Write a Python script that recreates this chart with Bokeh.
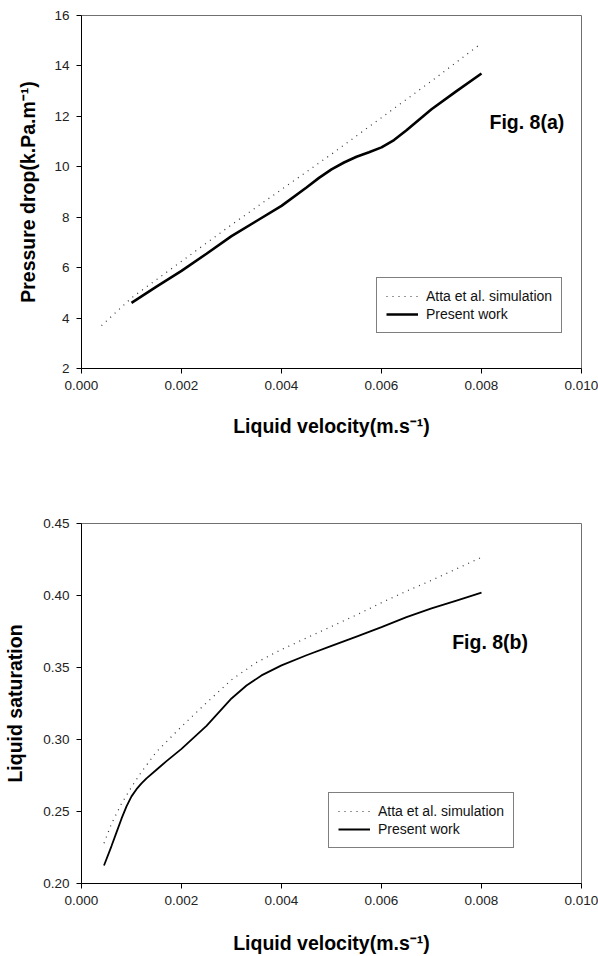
from bokeh.plotting import figure
from bokeh.models import Range1d, FixedTicker, PrintfTickFormatter, Label
from bokeh.layouts import column
from bokeh.embed import file_html
from bokeh.resources import INLINE

FONT = "Liberation Sans"

# ---------------- Fig. 8(a) data ----------------
a_atta_v = [0.0004, 0.001, 0.002, 0.003, 0.004, 0.005, 0.006, 0.007, 0.008]
a_atta_dp = [3.7, 4.8, 6.25, 7.7, 9.1, 10.5, 11.95, 13.4, 14.9]
a_work_v = [0.001, 0.0015, 0.002, 0.0025, 0.003, 0.0035, 0.004, 0.0045, 0.00475,
            0.005, 0.00525, 0.0055, 0.00575, 0.006, 0.00625, 0.0065, 0.00675,
            0.007, 0.0075, 0.008]
a_work_dp = [4.6, 5.25, 5.87, 6.55, 7.25, 7.85, 8.45, 9.18, 9.56,
             9.9, 10.17, 10.4, 10.58, 10.77, 11.06, 11.45, 11.87,
             12.28, 13.0, 13.7]
a_xticks = [0.0, 0.002, 0.004, 0.006, 0.008, 0.010]
a_yticks = [2, 4, 6, 8, 10, 12, 14, 16]

# ---------------- Fig. 8(b) data ----------------
b_atta_v = [0.00045, 0.0006, 0.0008, 0.001, 0.0012, 0.0015, 0.002, 0.0025, 0.003,
            0.0035, 0.004, 0.0045, 0.005, 0.0055, 0.006, 0.0065, 0.007, 0.0075, 0.008]
b_atta_s = [0.228, 0.2415, 0.2555, 0.267, 0.2775, 0.2915, 0.309, 0.3255, 0.3415,
            0.3535, 0.3625, 0.3705, 0.3785, 0.3865, 0.395, 0.403, 0.4105, 0.4185, 0.4265]
b_work_v = [0.00045, 0.0006, 0.0007, 0.0008, 0.0009, 0.001, 0.0011, 0.0012, 0.0013,
            0.0015, 0.0017, 0.002, 0.0025, 0.003, 0.0033, 0.0036, 0.004, 0.0045,
            0.005, 0.0055, 0.006, 0.0065, 0.007, 0.0075, 0.008]
b_work_s = [0.2125, 0.226, 0.2355, 0.245, 0.2535, 0.2605, 0.2655, 0.2695, 0.273,
            0.279, 0.285, 0.2935, 0.3095, 0.3285, 0.3375, 0.3445, 0.3515, 0.3585,
            0.365, 0.3715, 0.378, 0.385, 0.391, 0.3965, 0.402]
b_xticks = [0.0, 0.002, 0.004, 0.006, 0.008, 0.010]
b_yticks = [0.20, 0.25, 0.30, 0.35, 0.40, 0.45]

series_names = ["Atta et al. simulation", "Present work"]
x_title = "Liquid velocity(m.s\u207b\u00b9)"
y_title_a = "Pressure drop(k.Pa.m\u207b\u00b9)"
y_title_b = "Liquid saturation"


def style(p, xticks, yticks, yfmt, xstand, ystand):
    p.xaxis.ticker = FixedTicker(ticks=xticks)
    p.yaxis.ticker = FixedTicker(ticks=yticks)
    p.xaxis.formatter = PrintfTickFormatter(format="%.3f")
    p.yaxis.formatter = PrintfTickFormatter(format=yfmt)
    for ax in (p.xaxis[0], p.yaxis[0]):
        ax.axis_line_color = "black"
        ax.axis_line_width = 1
        ax.major_tick_line_color = "black"
        ax.major_tick_out = 5
        ax.major_tick_in = 0
        ax.minor_tick_out = 0
        ax.minor_tick_in = 0
        ax.major_label_standoff = 7
        ax.major_label_text_font = FONT
        ax.major_label_text_font_size = "13.5px"
        ax.major_label_text_color = "#222222"
        ax.axis_label_text_font = FONT
        ax.axis_label_text_font_size = "19.5px"
        ax.axis_label_text_font_style = "bold"
        ax.axis_label_text_color = "black"
    p.xaxis[0].axis_label_standoff = xstand
    p.yaxis[0].axis_label_standoff = ystand
    p.xgrid.visible = False
    p.ygrid.visible = False
    p.outline_line_color = "#707070"
    p.outline_line_width = 1
    p.background_fill_color = "white"
    p.border_fill_color = "white"


def add_tag(p, text, x, y):
    p.add_layout(Label(x=x, y=y, x_units="screen", y_units="screen", text=text,
                       text_font=FONT, text_font_size="19.5px", text_font_style="bold",
                       text_color="black", text_align="left",
                       text_baseline="alphabetic"))


def style_legend(p, loc):
    lg = p.legend[0]
    lg.location = loc
    lg.margin = 0
    lg.padding = 9
    lg.spacing = 0
    lg.label_height = 18
    lg.glyph_height = 18
    lg.glyph_width = 32
    lg.label_standoff = 8
    lg.label_text_font = FONT
    lg.label_text_font_size = "14px"
    lg.label_text_color = "#111111"
    lg.border_line_color = "black"
    lg.border_line_width = 1
    lg.background_fill_color = "white"
    lg.background_fill_alpha = 1


# ---------------- top figure ----------------
p1 = figure(width=598, height=478, output_backend="svg", toolbar_location=None,
            x_range=Range1d(0, 0.010), y_range=Range1d(2, 16),
            x_axis_label=x_title, y_axis_label=y_title_a,
            min_border_left=77, min_border_right=17, min_border_top=15,
            min_border_bottom=110)
style(p1, a_xticks, a_yticks, "%d", 22, 12)
p1.line(a_atta_v, a_atta_dp, line_color="#333333", line_width=1.2,
        line_dash="1 5", legend_label=series_names[0])
p1.line(a_work_v, a_work_dp, line_color="black", line_width=2.6,
        legend_label=series_names[1])
style_legend(p1, (295, 35))
add_tag(p1, "Fig. 8(a)", 408, 246.3)

# ---------------- bottom figure ----------------
p2 = figure(width=598, height=478, output_backend="svg", toolbar_location=None,
            x_range=Range1d(0, 0.010), y_range=Range1d(0.20, 0.45),
            x_axis_label=x_title, y_axis_label=y_title_b,
            min_border_left=81, min_border_right=17, min_border_top=45,
            min_border_bottom=73)
style(p2, b_xticks, b_yticks, "%.2f", 24, 14)
p2.line(b_atta_v, b_atta_s, line_color="#333333", line_width=1.2,
        line_dash="1 5", legend_label=series_names[0])
p2.line(b_work_v, b_work_s, line_color="black", line_width=1.8,
        legend_label=series_names[1])
style_legend(p2, (247, 35))
add_tag(p2, "Fig. 8(b)", 370.7, 241.3)

layout = column(p1, p2, spacing=0)
open("out.html", "w").write(file_html(layout, INLINE))
